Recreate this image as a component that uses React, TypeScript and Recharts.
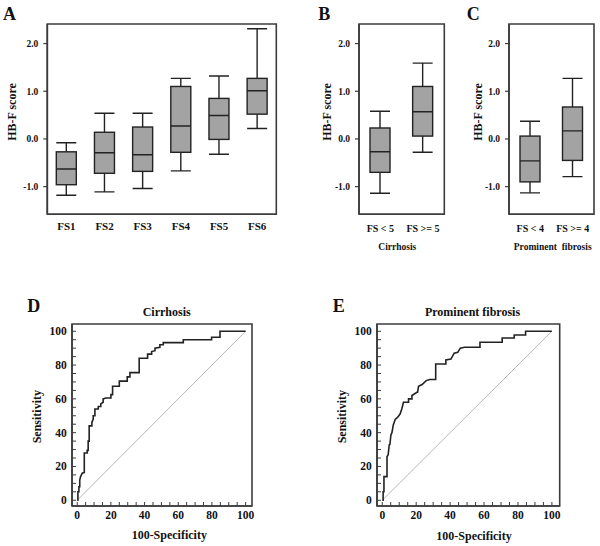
import React from "react";
import { Bar, ComposedChart, Line, LineChart, ReferenceArea, ReferenceLine, XAxis, YAxis } from "recharts";

const SERIF = '"Liberation Serif", "Times New Roman", serif';
const INK = "#222";
const FRAME = "#3c3c3c";
const BOX_FILL = "#a3a3a3";

// A: HB-F score by fibrosis stage
const stageNames = ["FS1", "FS2", "FS3", "FS4", "FS5", "FS6"];
const stageLow = [-1.18, -1.11, -1.04, -0.67, -0.32, 0.22];
const stageQ1 = [-0.96, -0.72, -0.68, -0.28, -0.01, 0.52];
const stageMedian = [-0.63, -0.29, -0.33, 0.27, 0.49, 1.01];
const stageQ3 = [-0.27, 0.14, 0.25, 1.1, 0.85, 1.27];
const stageHigh = [-0.08, 0.54, 0.54, 1.27, 1.32, 2.31];

// B: cirrhosis
const cirrhosisNames = ["FS < 5", "FS >= 5"];
const cirrhosisLow = [-1.14, -0.28];
const cirrhosisQ1 = [-0.7, 0.06];
const cirrhosisMedian = [-0.27, 0.57];
const cirrhosisQ3 = [0.23, 1.1];
const cirrhosisHigh = [0.58, 1.59];

// C: prominent fibrosis
const fibrosisNames = ["FS < 4", "FS >= 4"];
const fibrosisLow = [-1.13, -0.79];
const fibrosisQ1 = [-0.9, -0.45];
const fibrosisMedian = [-0.46, 0.17];
const fibrosisQ3 = [0.06, 0.67];
const fibrosisHigh = [0.37, 1.27];

const scoreTicks = [-1, 0, 1, 2];

// D: ROC, cirrhosis
const cirrhosisFpr = [
  0, 0.4, 0.4, 1, 1, 1.5, 1.5, 2, 3, 4.2, 4.2, 5.9, 5.9, 6.5, 6.5, 7.1, 7.1, 8.7, 8.7, 9.5,
  9.5, 10.5, 10.5, 12.5, 12.5, 14, 14, 15.4, 15.4, 17, 20, 20, 21, 21, 25, 25, 29.7, 29.7, 31.3, 31.3,
  36.8, 36.8, 41.8, 41.8, 44.2, 44.2, 46.2, 46.2, 49.1, 49.1, 51.1, 51.1, 63, 63, 79.8, 79.8, 84.8, 84.8, 100,
];
const cirrhosisTpr = [
  0, 0, 5, 5, 8, 8, 12, 14, 16, 16.5, 28, 28, 29.5, 29.5, 35, 35, 44, 44, 46, 48,
  50, 50, 54, 54, 55.5, 55.5, 57, 58, 60, 60.5, 60.5, 62.5, 62.5, 67.5, 67.5, 70.5, 70.5, 73, 73, 75.5,
  75.5, 84, 84, 86.5, 86.5, 88, 88.5, 90, 90.5, 92, 92, 93.3, 93.3, 95, 95, 96.5, 96.5, 100, 100,
];

// E: ROC, prominent fibrosis
const fibrosisFpr = [
  0, 0.5, 0.5, 1, 1, 2.8, 2.8, 3.5, 4.1, 4.5, 5.1, 5.7, 6.5, 7.7, 9, 10.5, 11.5, 12.5, 15.5, 15.5,
  17.5, 17.5, 20.4, 20.8, 21.4, 23.5, 25.9, 28, 31.5, 31.5, 37.5, 37.5, 40.5, 42.4, 44.5, 46, 48.5, 57.6, 57.6, 70.7,
  70.7, 77.8, 77.8, 84.5, 84.5, 100,
];
const fibrosisTpr = [
  0, 0, 5, 5, 14, 14, 25.8, 27, 32.7, 33, 38.6, 40, 44.6, 48, 49, 51, 54, 58, 58, 60,
  60, 62, 63.9, 63.9, 67.4, 68.5, 70.8, 71.5, 71.5, 80.6, 80.6, 83, 83.5, 87, 87.5, 90, 90.5, 90.5, 93.5, 93.5,
  96, 96, 97.8, 97.8, 100, 100,
];

const rocTicks = [0, 5, 10, 15, 20, 25, 30, 35, 40, 45, 50, 55, 60, 65, 70, 75, 80, 85, 90, 95, 100];
const rocLabelled = [0, 20, 40, 60, 80, 100];
const chanceLine = [{ x: 0, y: 0 }, { x: 100, y: 100 }];

const frameLine = { stroke: FRAME, strokeWidth: 1.6 };
const boldText = { fontFamily: SERIF, fontWeight: 700, fill: "#111" };

function BoxShape(props: any) {
  const { x, y, width, height, payload } = props;
  const top = Math.min(y, y + height);
  const bottom = Math.max(y, y + height);
  const { low, q1, median, q3, high } = payload;
  const toY = (v: number) => bottom - ((v - low) / (high - low)) * (bottom - top);
  const cx = x + width / 2;
  return (
    <g stroke={INK} strokeWidth={1.4}>
      <line x1={cx} x2={cx} y1={top} y2={toY(q3)} />
      <line x1={cx} x2={cx} y1={toY(q1)} y2={bottom} />
      <line x1={x} x2={x + width} y1={top} y2={top} />
      <line x1={x} x2={x + width} y1={bottom} y2={bottom} />
      <rect x={x} y={toY(q3)} width={width} height={toY(q1) - toY(q3)} fill={BOX_FILL} />
      <line x1={x} x2={x + width} y1={toY(median)} y2={toY(median)} />
    </g>
  );
}

function ScoreTick(props: any) {
  const { x, y, payload } = props;
  return (
    <text x={x} y={y + 3.3} textAnchor="end" fontSize={9.5} {...boldText}>
      {payload.value.toFixed(1)}
    </text>
  );
}

function makeGroupTick(fontSize: number, offset: number) {
  return function GroupTick(props: any) {
    const { x, y, payload } = props;
    return (
      <text x={x} y={y + offset} textAnchor="middle" fontSize={fontSize} {...boldText}>
        {payload.value}
      </text>
    );
  };
}

function RocXTick(props: any) {
  const { x, y, payload } = props;
  return (
    <g>
      <line x1={x} x2={x} y1={y} y2={y - 4} stroke={FRAME} strokeWidth={1} />
      {rocLabelled.includes(payload.value) && (
        <text x={x} y={y + 13} textAnchor="middle" fontSize={11.5} {...boldText}>
          {payload.value}
        </text>
      )}
    </g>
  );
}

function RocYTick(props: any) {
  const { x, y, payload } = props;
  return (
    <g>
      <line x1={x} x2={x + 4} y1={y} y2={y} stroke={FRAME} strokeWidth={1} />
      {rocLabelled.includes(payload.value) && (
        <text x={x - 5.3} y={y + 4} textAnchor="end" fontSize={11.5} {...boldText}>
          {payload.value}
        </text>
      )}
    </g>
  );
}

type BoxPanelProps = {
  names: string[];
  low: number[];
  q1: number[];
  median: number[];
  q3: number[];
  high: number[];
  width: number;
  yAxisWidth: number;
  marginRight: number;
  tickFontSize: number;
  tickOffset: number;
};

const scoreDomain = [-1.58, 2.41];

function BoxPanel({ names, low, q1, median, q3, high, width, yAxisWidth, marginRight, tickFontSize, tickOffset }: BoxPanelProps) {
  const data = names.map((name, i) => ({
    name,
    range: [low[i], high[i]],
    low: low[i],
    q1: q1[i],
    median: median[i],
    q3: q3[i],
    high: high[i],
  }));
  const GroupTick = makeGroupTick(tickFontSize, tickOffset);

  return (
    <ComposedChart width={width} height={260} data={data} margin={{ top: 24, right: marginRight, bottom: 5.7, left: 0 }}>
      <XAxis dataKey="name" interval={0} axisLine={frameLine} tickLine={false} tickSize={0} tickMargin={0} height={40} tick={<GroupTick />} />
      <YAxis
        type="number"
        domain={scoreDomain}
        ticks={scoreTicks}
        allowDataOverflow
        width={yAxisWidth}
        axisLine={frameLine}
        tickLine={{ stroke: FRAME, strokeWidth: 1.2 }}
        tickSize={4}
        tickMargin={5}
        tick={<ScoreTick />}
      />
      {/* plot frame */}
      <ReferenceArea y1={scoreDomain[0]} y2={scoreDomain[1]} fill="none" stroke={FRAME} strokeWidth={1.6} ifOverflow="visible" />
      <Bar dataKey="range" barSize={20} shape={<BoxShape />} isAnimationActive={false} />
    </ComposedChart>
  );
}

type RocPanelProps = {
  fpr: number[];
  tpr: number[];
  width: number;
  yAxisWidth: number;
  marginRight: number;
  xDomain: number[];
};

const rocYDomain = [-3.4, 104.3];

function RocPanel({ fpr, tpr, width, yAxisWidth, marginRight, xDomain }: RocPanelProps) {
  const data = fpr.map((x, i) => ({ x, y: tpr[i] }));

  return (
    <LineChart width={width} height={246} data={data} margin={{ top: 24, right: marginRight, bottom: 10, left: 0 }}>
      <XAxis type="number" dataKey="x" domain={xDomain} ticks={rocTicks} interval={0} allowDataOverflow axisLine={frameLine} tickLine={false} tickSize={0} tickMargin={0} height={30} tick={<RocXTick />} />
      <YAxis type="number" domain={rocYDomain} ticks={rocTicks} interval={0} allowDataOverflow width={yAxisWidth} axisLine={frameLine} tickLine={false} tickSize={0} tickMargin={0} tick={<RocYTick />} />
      {/* plot frame */}
      <ReferenceArea x1={xDomain[0]} x2={xDomain[1]} y1={rocYDomain[0]} y2={rocYDomain[1]} fill="none" stroke={FRAME} strokeWidth={1.6} ifOverflow="visible" />
      <ReferenceLine segment={chanceLine} stroke="#b8b8b8" strokeWidth={1} />
      <Line dataKey="y" type="linear" dot={false} activeDot={false} stroke={INK} strokeWidth={1.6} isAnimationActive={false} />
    </LineChart>
  );
}

const place = (left: number, top: number): React.CSSProperties => ({ position: "absolute", left, top });

export default function App() {
  return (
    <div style={{ position: "absolute", left: 0, top: 0, width: 600, height: 546, background: "#fff", overflow: "hidden" }}>
      <div style={place(0, 0)}>
        <BoxPanel names={stageNames} low={stageLow} q1={stageQ1} median={stageMedian} q3={stageQ3} high={stageHigh}
          width={290} yAxisWidth={47.3} marginRight={13.7} tickFontSize={11} tickOffset={15.7} />
      </div>
      <div style={place(300, 0)}>
        <BoxPanel names={cirrhosisNames} low={cirrhosisLow} q1={cirrhosisQ1} median={cirrhosisMedian} q3={cirrhosisQ3} high={cirrhosisHigh}
          width={150} yAxisWidth={59} marginRight={5.7} tickFontSize={10} tickOffset={18} />
      </div>
      <div style={place(450, 0)}>
        <BoxPanel names={fibrosisNames} low={fibrosisLow} q1={fibrosisQ1} median={fibrosisMedian} q3={fibrosisQ3} high={fibrosisHigh}
          width={150} yAxisWidth={59} marginRight={6} tickFontSize={10} tickOffset={18} />
      </div>
      <div style={place(0, 300)}>
        <RocPanel fpr={cirrhosisFpr} tpr={cirrhosisTpr} width={270} yAxisWidth={72} marginRight={18} xDomain={[-3.1, 103.8]} />
      </div>
      <div style={place(300, 300)}>
        <RocPanel fpr={fibrosisFpr} tpr={fibrosisTpr} width={270} yAxisWidth={77} marginRight={10.3} xDomain={[-3.1, 104.6]} />
      </div>

      <svg width={600} height={546} style={{ position: "absolute", left: 0, top: 0, pointerEvents: "none" }}>
        <g {...boldText} fontSize={18}>
          <text x={3} y={19.5}>A</text>
          <text x={318.3} y={19.5}>B</text>
          <text x={466.7} y={19.5}>C</text>
          <text x={27.3} y={311.7}>D</text>
          <text x={332.7} y={311.7}>E</text>
        </g>
        <g {...boldText} fontSize={12} textAnchor="middle">
          <text x={15.5} y={112} transform="rotate(-90 15.5 112)">HB-F score</text>
          <text x={330.5} y={112} transform="rotate(-90 330.5 112)">HB-F score</text>
          <text x={481.5} y={112} transform="rotate(-90 481.5 112)">HB-F score</text>
          <text x={166.7} y={316}>Cirrhosis</text>
          <text x={472.5} y={316}>Prominent fibrosis</text>
          <text x={41} y={416.7} transform="rotate(-90 41 416.7)">Sensitivity</text>
          <text x={346} y={416.7} transform="rotate(-90 346 416.7)">Sensitivity</text>
          <text x={169.3} y={539}>100-Specificity</text>
          <text x={474} y={539.5}>100-Specificity</text>
        </g>
        <g {...boldText} fontSize={9.5} textAnchor="middle">
          <text x={397.3} y={250}>Cirrhosis</text>
          <text x={552.7} y={250} style={{ whiteSpace: "pre" }}>Prominent  fibrosis</text>
        </g>
      </svg>
    </div>
  );
}
